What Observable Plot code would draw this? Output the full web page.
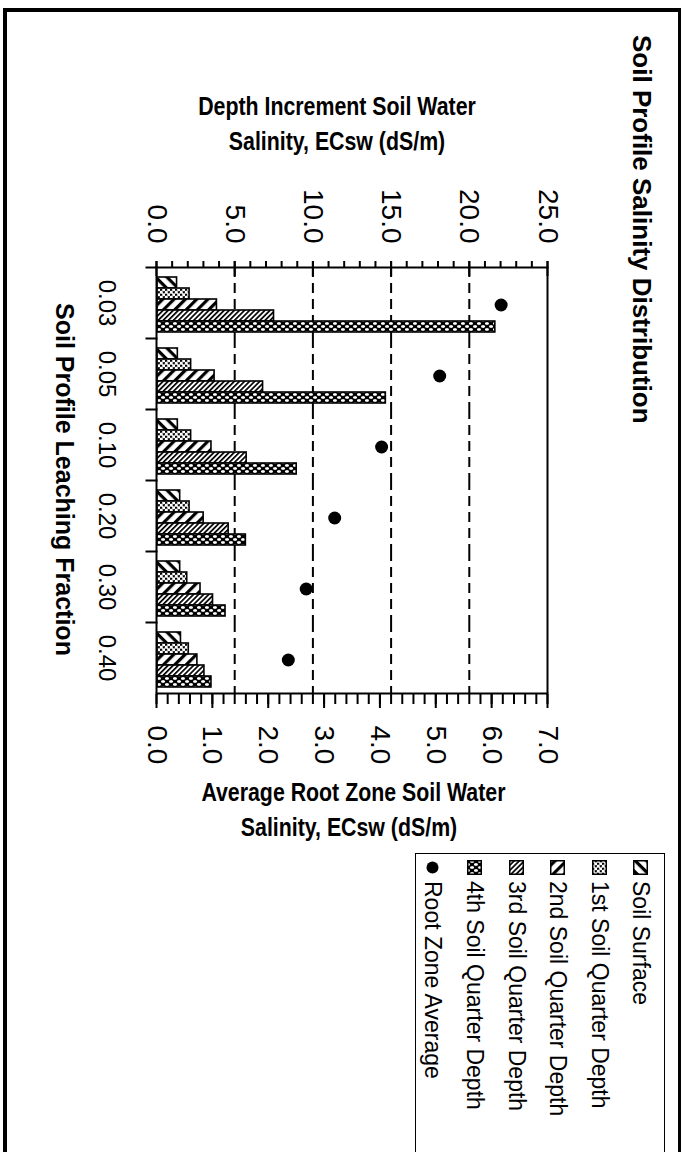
<!DOCTYPE html>
<html><head><meta charset="utf-8">
<script src="https://cdn.jsdelivr.net/npm/d3@7"></script>
<script src="https://cdn.jsdelivr.net/npm/@observablehq/plot@0.6"></script>
<style>
html,body{margin:0;padding:0;width:685px;height:1152px;overflow:hidden;background:#fff;}
#land{position:absolute;left:0;top:0;width:1152px;height:685px;transform-origin:0 0;transform:translate(685px,0) rotate(90deg);font-family:"Liberation Sans",Arial,Helvetica,sans-serif;color:#000;overflow:hidden;}
#chart{position:absolute;left:0;top:0;}
.abs{position:absolute;white-space:nowrap;}
#border{position:absolute;left:8px;top:4px;width:1300px;height:678px;box-sizing:border-box;border-left:4px solid #000;border-top:3px solid #000;border-bottom:4px solid #000;}
#title{left:35px;top:28px;font-size:26px;font-weight:bold;line-height:30px;}
.axt{font-weight:bold;font-size:26px;line-height:35px;text-align:center;width:360px;height:70px;transform:rotate(-90deg) scaleX(0.82);}
#xtitle{font-size:25px;font-weight:bold;line-height:28px;text-align:center;width:430px;}
#legend{position:absolute;left:853px;top:20px;width:400px;height:250px;box-sizing:border-box;border-left:1.5px solid #000;border-top:1.5px solid #000;border-bottom:1.5px solid #000;}
.li{position:absolute;left:6px;height:30px;display:flex;align-items:center;font-size:23px;white-space:nowrap;}
.li svg{margin-right:6px;flex:none;}
</style></head><body>
<svg width="0" height="0" style="position:absolute">
<defs>
<pattern id="pSS" width="8" height="8" patternUnits="userSpaceOnUse" patternTransform="rotate(45)">
<rect width="8" height="8" fill="#fff"/><rect width="3.2" height="8" fill="#000"/>
</pattern>
<pattern id="p1" width="5" height="5" patternUnits="userSpaceOnUse">
<rect width="5" height="5" fill="#fff"/>
<path d="M0.3,0.3L2.2,2.2M2.2,0.3L0.3,2.2M2.8,2.8L4.7,4.7M4.7,2.8L2.8,4.7" stroke="#000" stroke-width="1.1"/>
</pattern>
<pattern id="p2" width="8" height="8" patternUnits="userSpaceOnUse" patternTransform="rotate(-45)">
<rect width="8" height="8" fill="#fff"/><rect width="3.2" height="8" fill="#000"/>
</pattern>
<pattern id="p3" width="3.6" height="4" patternUnits="userSpaceOnUse" patternTransform="rotate(-45)">
<rect width="3.6" height="4" fill="#fff"/><rect width="1.7" height="4" fill="#000"/>
</pattern>
<pattern id="p4" width="6" height="8" patternUnits="userSpaceOnUse">
<rect width="6" height="8" fill="#000"/>
<ellipse cx="1.5" cy="2" rx="1.4" ry="2.1" fill="#fff"/>
<ellipse cx="4.5" cy="6" rx="1.4" ry="2.1" fill="#fff"/>
</pattern>
</defs>
</svg>
<div id="land">
<div id="chart"></div>
<div id="border"></div>
<div id="title" class="abs">Soil Profile Salinity Distribution</div>
<div id="ytitle" class="abs axt">Depth Increment Soil Water<br>Salinity, ECsw (dS/m)</div>
<div id="y2title" class="abs axt">Average Root Zone Soil Water<br>Salinity, ECsw (dS/m)</div>
<div id="xtitle" class="abs">Soil Profile Leaching Fraction</div>
<div id="legend"></div>
</div>
<script>
// ---- data ----
const leachingFractions = ["0.03", "0.05", "0.10", "0.20", "0.30", "0.40"];
const seriesNames = ["Soil Surface", "1st Soil Quarter Depth", "2nd Soil Quarter Depth", "3rd Soil Quarter Depth", "4th Soil Quarter Depth"];
const soilSurface   = [1.25, 1.3, 1.3, 1.45, 1.45, 1.5];
const firstQuarter  = [2.05, 2.15, 2.15, 2.05, 1.9, 2.0];
const secondQuarter = [3.8, 3.65, 3.45, 2.95, 2.75, 2.55];
const thirdQuarter  = [7.45, 6.75, 5.7, 4.55, 3.55, 3.0];
const fourthQuarter = [21.6, 14.6, 8.9, 5.65, 4.35, 3.45];
const rootZoneAverage = [6.17, 5.07, 4.03, 3.19, 2.68, 2.36];
const avgLabel = "Root Zone Average";
const depthTicks = [0, 5, 10, 15, 20, 25];
const rootTicks = [0, 1, 2, 3, 4, 5, 6, 7];
const gridValues = [5, 10, 15, 20];

// ---- build ----
const seriesValues = [soilSurface, firstQuarter, secondQuarter, thirdQuarter, fourthQuarter];
const patternIds = ["pSS", "p1", "p2", "p3", "p4"];
const bars = leachingFractions.flatMap((lf, i) => seriesNames.map((s, j) => ({lf, series: s, value: seriesValues[j][i]})));
const avg = leachingFractions.map((lf, i) => ({lf, value: rootZoneAverage[i]}));
const toDepth = v => v * 25 / 7;

const W = 1152, H = 685;
const mL = 266, mR = 459, mT = 137, mB = 157;
const plotH = H - mT - mB;

const chart = Plot.plot({
  width: W, height: H,
  marginLeft: mL, marginRight: mR, marginTop: mT, marginBottom: mB,
  style: {background: "transparent", overflow: "visible", fontFamily: '"Liberation Sans", Arial, sans-serif', color: "#000"},
  fx: {domain: leachingFractions, padding: 0, axis: null, label: null},
  x: {domain: seriesNames, paddingInner: 0, paddingOuter: 0.55, align: 0.65, axis: null},
  y: {domain: [0, 25], axis: null},
  color: {type: "ordinal", domain: seriesNames, range: patternIds.map(id => `url(#${id})`)},
  marks: [
    Plot.gridY(gridValues, {stroke: "#000", strokeOpacity: 1, strokeWidth: 2, strokeDasharray: "10,6"}),
    Plot.barY(bars, {fx: "lf", x: "series", y: "value", fill: "series", stroke: "#000", strokeWidth: 1.6}),
    Plot.dot(avg, {fx: "lf", x: () => seriesNames[2], y: d => toDepth(d.value), r: 6.5, fill: "#000", stroke: "none"}),
    Plot.ruleY([0, 25], {stroke: "#000", strokeWidth: 2}),
    Plot.frame({anchor: "left", facetAnchor: "left", strokeWidth: 2}),
    Plot.frame({anchor: "right", facetAnchor: "right", strokeWidth: 2}),
    Plot.frame({anchor: "left", insetTop: plotH, insetBottom: -10, strokeWidth: 2}),
    Plot.axisY(d3.range(0, 26), {anchor: "left", tickSize: 6, tickFormat: () => "", strokeWidth: 2, label: null}),
    Plot.axisY(depthTicks, {anchor: "left", tickSize: -9, tickFormat: () => "", strokeWidth: 2, label: null}),
    Plot.axisY(depthTicks, {anchor: "left", tickSize: 6, tickPadding: 18, tickFormat: d3.format(".1f"), fontSize: 28, strokeWidth: 2, label: null}),
    Plot.axisY(d3.range(0, 36).map(i => i / 5), {anchor: "right", y: toDepth, tickSize: 10, tickFormat: () => "", strokeWidth: 2, label: null}),
    Plot.axisY(rootTicks, {anchor: "right", y: toDepth, tickSize: 14, tickPadding: 18, tickFormat: d3.format(".1f"), fontSize: 28, strokeWidth: 2, label: null}),
    Plot.axisFx({anchor: "bottom", tickSize: 0, tickPadding: 40, fontSize: 24, label: null})
  ]
});
document.getElementById("chart").appendChild(chart);

// ---- titles positions (landscape coords) ----
const yt = document.getElementById("ytitle");
yt.style.left = (123.5 - 180) + "px"; yt.style.top = (348 - 35) + "px";
const y2t = document.getElementById("y2title");
y2t.style.left = (809.5 - 180) + "px"; y2t.style.top = (336 - 35) + "px";
const xt = document.getElementById("xtitle");
xt.style.left = (mL + (W - mL - mR) / 2 - 215) + "px"; xt.style.top = (620 - 14) + "px";

// ---- legend ----
const legend = document.getElementById("legend");
const legendNames = [...seriesNames, avgLabel];
legendNames.forEach((name, i) => {
  const row = document.createElement("div");
  row.className = "li";
  row.style.top = (8 + i * 41.6) + "px";
  const sw = i < seriesNames.length
    ? `<svg width="15" height="15"><rect x="0.75" y="0.75" width="13.5" height="13.5" fill="url(#${patternIds[i]})" stroke="#000" stroke-width="1.5"/></svg>`
    : `<svg width="15" height="15"><circle cx="7.5" cy="7.5" r="6" fill="#000"/></svg>`;
  row.innerHTML = sw + `<span>${name}</span>`;
  legend.appendChild(row);
});
</script>
</body></html>
